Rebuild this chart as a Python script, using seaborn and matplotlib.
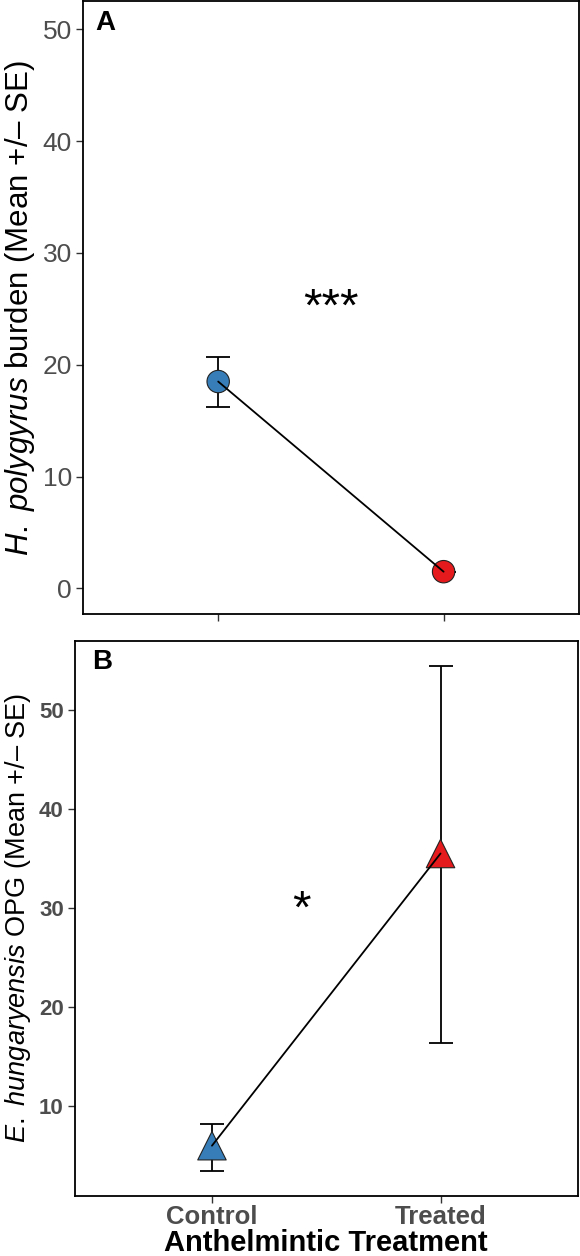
import matplotlib
matplotlib.use("Agg")
import matplotlib.pyplot as plt
import seaborn as sns
import pandas as pd

# data
groups = ["Control", "Treated"]
worm_mean = [18.5, 1.5]
worm_lo = [16.2, 1.5]
worm_hi = [20.7, 1.5]
opg_mean = [6.0, 35.5]
opg_lo = [3.4, 16.4]
opg_hi = [8.2, 54.4]
colors = ["#377EB8", "#E41A1C"]

sns.set_theme(style="white")
plt.rcParams['font.family'] = ['Liberation Sans', 'DejaVu Sans']
plt.rcParams['text.color'] = 'black'
plt.rcParams['axes.labelcolor'] = 'black'
plt.rcParams['mathtext.fontset'] = 'custom'
plt.rcParams['mathtext.rm'] = 'Liberation Sans'
plt.rcParams['mathtext.it'] = 'Liberation Sans:italic'

df_a = pd.DataFrame({"group": groups, "mean": worm_mean, "lo": worm_lo, "hi": worm_hi, "x": [0, 1]})
df_b = pd.DataFrame({"group": groups, "mean": opg_mean, "lo": opg_lo, "hi": opg_hi, "x": [0, 1]})

fig = plt.figure(figsize=(5.8, 12.56), dpi=100)
ax1 = fig.add_axes([0.143, 0.511, 0.855, 0.488])
ax2 = fig.add_axes([0.129, 0.048, 0.867, 0.442])


def draw(ax, d, marker, size):
    for i, row in d.iterrows():
        ax.errorbar(row["x"], row["mean"],
                    yerr=[[row["mean"] - row["lo"]], [row["hi"] - row["mean"]]],
                    fmt="none", ecolor="black", elinewidth=1.3, capsize=8.5,
                    capthick=1.3, zorder=2)
    sns.scatterplot(data=d, x="x", y="mean", hue="group", palette=colors,
                    marker=marker, s=size, edgecolor="#222222", linewidth=0.8,
                    legend=False, ax=ax, zorder=3)
    sns.lineplot(data=d, x="x", y="mean", color="black", linewidth=1.3,
                 ax=ax, zorder=4, legend=False)
    ax.set_xlim(-0.6, 1.6)
    ax.set_xticks([0, 1])
    for s in ax.spines.values():
        s.set_color("black")
        s.set_linewidth(1.3)
    ax.tick_params(axis="both", which="both", direction="out", length=5,
                   width=1.0, color="#333333", left=True, bottom=True)


draw(ax1, df_a, "o", 260)
ax1.set_ylim(-2.3, 52.5)
ax1.set_yticks([0, 10, 20, 30, 40, 50])
ax1.tick_params(axis="y", labelsize=19, labelcolor="#4D4D4D", pad=3)
ax1.set_xticklabels([])
ax1.set_xlabel("")
ax1.set_ylabel(r"$\it{H.}$ $\it{polygyrus}$ burden (Mean +/– SE)", fontsize=22.5,
               color="black", labelpad=4)
ax1.text(0.5, 25.0, "***", fontsize=34, ha="center", va="center", color="black")
ax1.text(0.025, 0.985, "A", transform=ax1.transAxes, fontsize=20,
         fontweight="bold", ha="left", va="top", color="black")

draw(ax2, df_b, "^", 420)
ax2.set_ylim(0.95, 57.0)
ax2.set_yticks([10, 20, 30, 40, 50])
ax2.tick_params(axis="y", labelsize=16, labelcolor="#4D4D4D", pad=3)
for lab in ax2.get_yticklabels():
    lab.set_fontweight("bold")
ax2.set_xticklabels(groups, fontsize=18.5, fontweight="bold", color="#4D4D4D")
ax2.tick_params(axis="x", pad=2)
ax2.set_xlabel("Anthelmintic Treatment", fontsize=21, fontweight="bold",
               color="black", labelpad=0)
ax2.set_ylabel(r"$\it{E.}$ $\it{hungaryensis}$ OPG (Mean +/– SE)", fontsize=19.5,
               color="black", labelpad=4)
ax2.text(0.39, 29.7, "*", fontsize=34, ha="center", va="center", color="black")
ax2.text(0.035, 0.985, "B", transform=ax2.transAxes, fontsize=20,
         fontweight="bold", ha="left", va="top", color="black")

fig.savefig("out.png", dpi=100)
